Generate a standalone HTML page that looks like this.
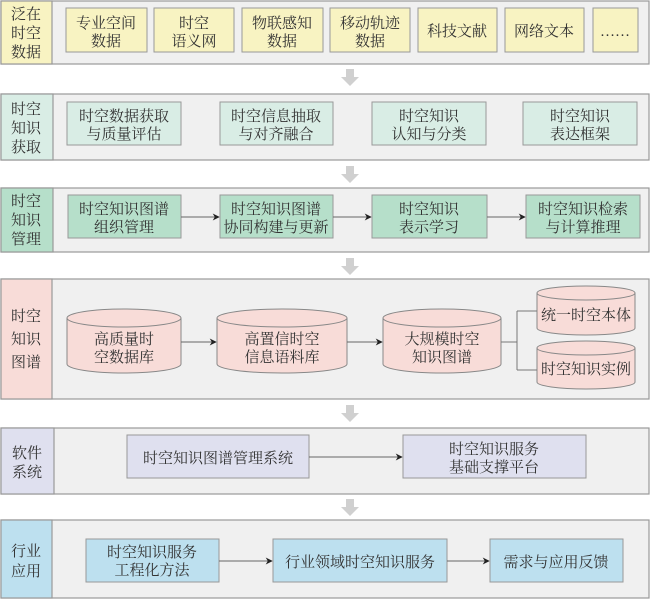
<!DOCTYPE html>
<html><head><meta charset="utf-8"><style>
body{margin:0;background:#fff;}
svg text{font-family:"Liberation Serif","Noto Serif CJK SC",serif;font-size:15px;fill:#333;text-anchor:middle;}
</style></head><body>
<svg width="650" height="599" viewBox="0 0 650 599" xmlns="http://www.w3.org/2000/svg">
<defs>
<marker id="a" viewBox="0 0 10 10" refX="9" refY="5" markerWidth="7" markerHeight="7" orient="auto"><path d="M0,0 L10,5 L0,10 L3,5 z" fill="#222"/></marker>
<g id="dn"><rect x="-4" y="0" width="8" height="8" fill="#d0d0d0"/><path d="M-9,8 L9,8 L0,17 z" fill="#d0d0d0"/></g>
</defs>
<g stroke="#999" stroke-width="1.2">
<rect x="1" y="1" width="648" height="63" fill="#f0f0f0"/>
<rect x="1" y="1" width="51" height="63" fill="#f8f3c2"/>
<rect x="1" y="94" width="648" height="66" fill="#f0f0f0"/>
<rect x="1" y="94" width="52" height="66" fill="#d9ede5"/>
<rect x="1" y="188" width="648" height="64" fill="#f0f0f0"/>
<rect x="1" y="188" width="52" height="64" fill="#b6dfca"/>
<rect x="1" y="279" width="648" height="120" fill="#f0f0f0"/>
<rect x="1" y="279" width="51" height="120" fill="#f8dcd8"/>
<rect x="1" y="428" width="648" height="66" fill="#f0f0f0"/>
<rect x="1" y="428" width="53" height="66" fill="#dfe0ef"/>
<rect x="1" y="520" width="648" height="78" fill="#f0f0f0"/>
<rect x="1" y="520" width="51" height="78" fill="#bde0ef"/>
</g>
<g fill="#f8f3c2" stroke="#999">
<rect x="66" y="8" width="81" height="44"/><rect x="154" y="8" width="80" height="44"/><rect x="242" y="8" width="81" height="44"/><rect x="330" y="8" width="80" height="44"/><rect x="418" y="8" width="79" height="44"/><rect x="505" y="8" width="79" height="44"/><rect x="593" y="8" width="45" height="44"/>
</g>
<g fill="#d9ede5" stroke="#999">
<rect x="67" y="102" width="114" height="43"/><rect x="220" y="102" width="113" height="43"/><rect x="372" y="102" width="114" height="43"/><rect x="523" y="102" width="114" height="43"/>
</g>
<g fill="#b6dfca" stroke="#999">
<rect x="68" y="195" width="113" height="43"/><rect x="220" y="195" width="113" height="43"/><rect x="372" y="195" width="115" height="43"/><rect x="526" y="195" width="114" height="43"/>
</g>
<g fill="#dfe0ef" stroke="#999">
<rect x="127" y="435" width="182" height="43"/><rect x="403" y="435" width="183" height="43"/>
</g>
<g fill="#bde0ef" stroke="#999">
<rect x="86" y="539" width="133" height="43"/><rect x="273" y="539" width="174" height="43"/><rect x="490" y="539" width="133" height="43"/>
</g>
<g fill="#f8dcd8" stroke="#888">
<path d="M67,318 L67,364 A57,9 0 0 0 181,364 L181,318"/><ellipse cx="124" cy="318" rx="57" ry="9"/>
<path d="M217,318 L217,364 A65,9 0 0 0 347,364 L347,318"/><ellipse cx="282" cy="318" rx="65" ry="9"/>
<path d="M383,318 L383,364 A59,9 0 0 0 501,364 L501,318"/><ellipse cx="442" cy="318" rx="59" ry="9"/>
<path d="M537,293 L537,328 A49,7 0 0 0 635,328 L635,293"/><ellipse cx="586" cy="293" rx="49" ry="7"/>
<path d="M537,348 L537,382 A49,7 0 0 0 635,382 L635,348"/><ellipse cx="586" cy="348" rx="49" ry="7"/>
</g>
<g stroke="#666" stroke-width="1" fill="none" marker-end="url(#a)">
<line x1="181" y1="342" x2="216" y2="342"/><line x1="347" y1="342" x2="382" y2="342"/>
<line x1="181" y1="217" x2="219" y2="217"/><line x1="333" y1="217" x2="371" y2="217"/><line x1="487" y1="217" x2="525" y2="217"/>
<line x1="309" y1="457" x2="402" y2="457"/>
<line x1="219" y1="561" x2="272" y2="561"/><line x1="447" y1="561" x2="489" y2="561"/>
</g>
<path d="M501,342 H517 M517,311 V370 M517,311 H537 M517,370 H537" stroke="#777" fill="none"/>
<use href="#dn" x="350" y="69"/><use href="#dn" x="350" y="166"/><use href="#dn" x="350" y="258"/><use href="#dn" x="350" y="405"/><use href="#dn" x="350" y="499"/>
<text x="26" y="19">泛在</text><text x="26" y="38">时空</text><text x="26" y="57">数据</text>
<text x="26" y="114">时空</text><text x="26" y="133">知识</text><text x="26" y="152">获取</text>
<text x="26" y="206">时空</text><text x="26" y="225">知识</text><text x="26" y="244">管理</text>
<text x="26" y="321">时空</text><text x="26" y="344">知识</text><text x="26" y="367">图谱</text>
<text x="27" y="458">软件</text><text x="27" y="477">系统</text>
<text x="26" y="556">行业</text><text x="26" y="576">应用</text>
<text x="106" y="28">专业空间</text><text x="106" y="46">数据</text>
<text x="194" y="28">时空</text><text x="194" y="46">语义网</text>
<text x="282" y="28">物联感知</text><text x="282" y="46">数据</text>
<text x="370" y="28">移动轨迹</text><text x="370" y="46">数据</text>
<text x="457" y="36">科技文献</text><text x="544" y="36">网络文本</text><text x="615" y="36">……</text>
<text x="124" y="121">时空数据获取</text><text x="124" y="139">与质量评估</text>
<text x="276" y="121">时空信息抽取</text><text x="276" y="139">与对齐融合</text>
<text x="429" y="121">时空知识</text><text x="429" y="139">认知与分类</text>
<text x="580" y="121">时空知识</text><text x="580" y="139">表达框架</text>
<text x="124" y="214">时空知识图谱</text><text x="124" y="232">组织管理</text>
<text x="276" y="214">时空知识图谱</text><text x="276" y="232">协同构建与更新</text>
<text x="429" y="214">时空知识</text><text x="429" y="232">表示学习</text>
<text x="583" y="214">时空知识检索</text><text x="583" y="232">与计算推理</text>
<text x="124" y="344">高质量时</text><text x="124" y="362">空数据库</text>
<text x="282" y="344">高置信时空</text><text x="282" y="362">信息语料库</text>
<text x="442" y="344">大规模时空</text><text x="442" y="362">知识图谱</text>
<text x="586" y="320">统一时空本体</text><text x="586" y="374">时空知识实例</text>
<text x="218" y="463">时空知识图谱管理系统</text>
<text x="494" y="454">时空知识服务</text><text x="494" y="472">基础支撑平台</text>
<text x="152" y="557">时空知识服务</text><text x="152" y="575">工程化方法</text>
<text x="360" y="567">行业领域时空知识服务</text>
<text x="556" y="567">需求与应用反馈</text>
</svg>
</body></html>
